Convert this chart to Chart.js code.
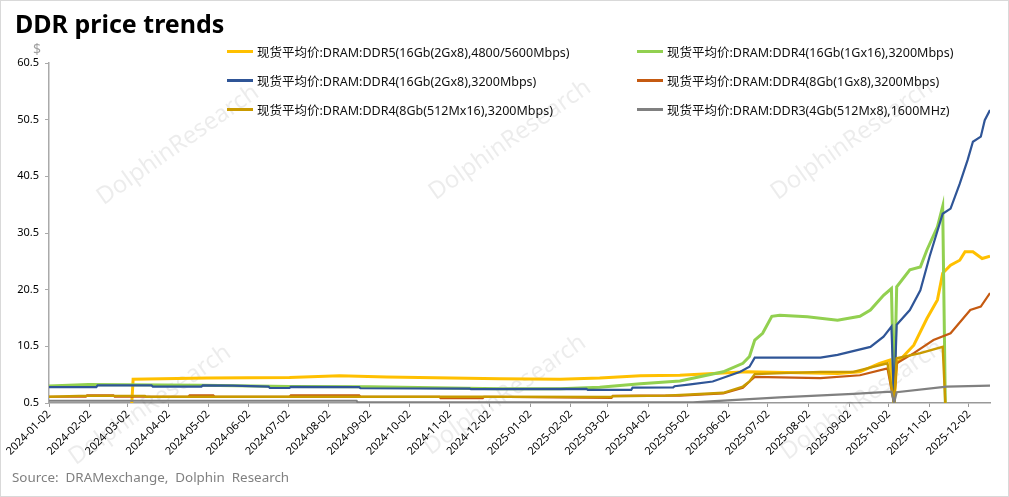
<!DOCTYPE html>
<html>
<head>
<meta charset="utf-8">
<script src="https://cdn.jsdelivr.net/npm/chart.js@4.4.1/dist/chart.umd.min.js"></script>
<style>
  body { margin: 0; background: #fff; }
  #wrap { position: relative; width: 1009px; height: 497px; overflow: hidden;
          font-family: "Noto Sans", "Noto Sans CJK SC", sans-serif; }
  #frame { position: absolute; left: 0; top: 0; right: 0; bottom: 0;
           border: 1px solid #d9d9d9; pointer-events: none; }
  canvas { position: absolute; left: 0; top: 0; }
  #title { position: absolute; left: 15px; top: 6px; font-size: 25px; font-weight: bold; color: #000; }
  #unit { position: absolute; left: 33px; top: 39px; font-size: 14px; color: #a0a0a0; }
  #source { position: absolute; left: 12px; top: 468px; font-size: 13.4px; color: #808080; white-space: pre; }
  .leg { position: absolute; display: flex; align-items: center; font-size: 12.5px; color: #111; white-space: nowrap; }
  .leg i { display: inline-block; width: 26px; height: 3px; margin-right: 4px; }
</style>
</head>
<body>
<div id="wrap">
  <canvas id="chart" width="1009" height="497"></canvas>
  <div id="title">DDR price trends</div>
  <div id="unit">$</div>
  <div id="source">Source:  DRAMexchange,  Dolphin  Research</div>
  <div id="legend"></div>
  <div id="frame"></div>
</div>
<script>
// x-axis tick labels (2nd of each month)
const monthTicks = [
  "2024-01-02", "2024-02-02", "2024-03-02", "2024-04-02", "2024-05-02", "2024-06-02",
  "2024-07-02", "2024-08-02", "2024-09-02", "2024-10-02", "2024-11-02", "2024-12-02",
  "2025-01-02", "2025-02-02", "2025-03-02", "2025-04-02", "2025-05-02", "2025-06-02",
  "2025-07-02", "2025-08-02", "2025-09-02", "2025-10-02", "2025-11-02", "2025-12-02"
];
const yTicks = [0.5, 10.5, 20.5, 30.5, 40.5, 50.5, 60.5];
const lastDate = "2025-12-18";

const seriesNames = [
  "现货平均价:DRAM:DDR5(16Gb(2Gx8),4800/5600Mbps)",
  "现货平均价:DRAM:DDR4(16Gb(1Gx16),3200Mbps)",
  "现货平均价:DRAM:DDR4(16Gb(2Gx8),3200Mbps)",
  "现货平均价:DRAM:DDR4(8Gb(1Gx8),3200Mbps)",
  "现货平均价:DRAM:DDR4(8Gb(512Mx16),3200Mbps)",
  "现货平均价:DRAM:DDR3(4Gb(512Mx8),1600MHz)"
];
const seriesColors = ["#FFC000", "#92D050", "#2F5597", "#C55A11", "#C99A00", "#808080"];
const seriesWidths = [3, 3, 2.2, 2.2, 2.4, 2.2];

// DDR5 16Gb
const ddr5Dates = ["2024-03-05", "2024-03-06", "2024-05-01", "2024-07-03", "2024-08-10", "2024-09-15",
  "2024-12-10", "2025-01-25", "2025-02-24", "2025-03-27", "2025-04-26", "2025-06-16", "2025-08-24",
  "2025-09-10", "2025-09-25", "2025-10-03", "2025-10-06", "2025-10-08", "2025-10-21", "2025-10-31",
  "2025-11-08", "2025-11-12", "2025-11-18", "2025-11-25", "2025-11-29", "2025-12-05", "2025-12-12", "2025-12-18"];
const ddr5Prices = [0.5, 4.7, 4.9, 5.0, 5.3, 5.1,
  4.8, 4.7, 4.9, 5.3, 5.4, 6.0, 5.7,
  6.0, 7.5, 8.1, 0.5, 7.5, 10.7, 15.4,
  18.7, 23.4, 24.8, 25.7, 27.2, 27.2, 26.0, 26.4];

// DDR4 16Gb 1Gx16
const ddr4x16Dates = ["2024-01-02", "2024-02-01", "2024-04-27", "2024-07-03", "2024-09-02", "2024-12-10",
  "2025-01-25", "2025-02-24", "2025-03-27", "2025-04-26", "2025-05-29", "2025-06-13", "2025-06-18",
  "2025-06-22", "2025-06-28", "2025-07-05", "2025-07-11", "2025-08-01", "2025-08-24", "2025-09-10",
  "2025-09-18", "2025-09-28", "2025-10-04", "2025-10-06", "2025-10-08", "2025-10-18", "2025-10-26",
  "2025-10-31", "2025-11-08", "2025-11-12", "2025-11-14"];
const ddr4x16Prices = [3.5, 3.75, 3.65, 3.4, 3.35, 3.0,
  3.0, 3.3, 3.9, 4.4, 6.0, 7.5, 8.7,
  11.6, 12.8, 15.8, 16.0, 15.7, 15.1, 15.8,
  16.9, 19.5, 20.7, 0.5, 21.0, 24.0, 24.5,
  27.5, 31.6, 35.2, 0.5];

// DDR4 16Gb 2Gx8
const ddr4x8Dates = ["2024-01-02", "2024-02-07", "2024-02-08", "2024-03-20", "2024-03-21", "2024-04-27",
  "2024-04-28", "2024-05-21", "2024-06-17", "2024-06-18", "2024-07-03", "2024-07-04", "2024-08-25",
  "2024-08-26", "2024-11-17", "2024-11-18", "2025-02-14", "2025-02-15", "2025-03-20", "2025-03-21",
  "2025-04-21", "2025-04-22", "2025-05-04", "2025-05-21", "2025-06-11", "2025-06-18", "2025-06-22",
  "2025-08-11", "2025-08-24", "2025-09-18", "2025-09-28", "2025-10-04", "2025-10-06", "2025-10-08",
  "2025-10-18", "2025-10-26", "2025-11-02", "2025-11-12", "2025-11-18", "2025-11-25", "2025-12-01",
  "2025-12-05", "2025-12-11", "2025-12-14", "2025-12-18"];
const ddr4x8Prices = [3.3, 3.3, 3.6, 3.6, 3.4, 3.4,
  3.6, 3.55, 3.4, 3.15, 3.15, 3.35, 3.3,
  3.1, 3.05, 2.95, 3.0, 2.8, 2.8, 3.2,
  3.25, 3.45, 3.8, 4.3, 6.0, 6.9, 8.5,
  8.5, 9.0, 10.4, 12.2, 14.0, 0.5, 14.3,
  16.9, 20.4, 26.3, 33.9, 34.8, 39.2, 43.4,
  46.6, 47.5, 50.4, 52.2];

// DDR4 8Gb 1Gx8
const ddr4g8Dates = ["2024-01-02", "2024-01-30", "2024-01-31", "2024-02-20", "2024-02-21", "2024-04-17",
  "2024-04-18", "2024-05-06", "2024-05-07", "2024-07-03", "2024-07-04", "2024-08-25", "2024-08-26",
  "2024-10-25", "2024-10-26", "2024-11-27", "2024-11-28", "2025-03-05", "2025-03-06", "2025-03-27",
  "2025-04-26", "2025-05-29", "2025-06-13", "2025-06-18", "2025-06-22", "2025-08-11", "2025-09-10",
  "2025-10-01", "2025-10-06", "2025-10-08", "2025-10-21", "2025-11-05", "2025-11-18", "2025-12-03",
  "2025-12-11", "2025-12-18"];
const ddr4g8Prices = [1.6, 1.6, 1.85, 1.85, 1.6, 1.6,
  1.85, 1.85, 1.6, 1.6, 1.85, 1.85, 1.6,
  1.6, 1.35, 1.35, 1.6, 1.4, 1.75, 1.8,
  1.8, 2.2, 3.2, 4.3, 5.1, 4.9, 5.4,
  6.6, 0.5, 7.5, 9.3, 11.6, 12.8, 16.9,
  17.5, 19.9];

// DDR4 8Gb 512Mx16
const ddr4m16Dates = ["2024-01-02", "2024-01-25", "2024-03-15", "2024-03-16", "2024-12-10", "2025-03-05",
  "2025-03-06", "2025-04-15", "2025-05-04", "2025-05-29", "2025-06-13", "2025-06-18", "2025-06-22",
  "2025-08-11", "2025-09-05", "2025-10-01", "2025-10-06", "2025-10-08", "2025-10-26", "2025-11-12",
  "2025-11-14"];
const ddr4m16Prices = [1.6, 1.75, 1.75, 1.6, 1.6, 1.55,
  1.7, 1.8, 2.0, 2.3, 3.4, 4.3, 5.6,
  6.0, 6.0, 7.5, 0.5, 8.4, 9.3, 10.4,
  0.5];

// DDR3 4Gb
const ddr3Dates = ["2024-01-02", "2024-08-23", "2024-08-24", "2025-05-06", "2025-07-11", "2025-09-05",
  "2025-10-04", "2025-10-06", "2025-10-08", "2025-11-15", "2025-12-18"];
const ddr3Prices = [0.9, 0.9, 0.6, 0.6, 1.5, 2.1,
  2.5, 0.5, 2.4, 3.4, 3.55];

const seriesDates = [ddr5Dates, ddr4x16Dates, ddr4x8Dates, ddr4g8Dates, ddr4m16Dates, ddr3Dates];
const seriesPrices = [ddr5Prices, ddr4x16Prices, ddr4x8Prices, ddr4g8Prices, ddr4m16Prices, ddr3Prices];

const day0 = Date.UTC(2024, 0, 2);
function toDay(s) {
  const p = s.split("-").map(Number);
  return (Date.UTC(p[0], p[1] - 1, p[2]) - day0) / 86400000;
}

// legend (two columns, Excel-like)
const legendPos = [[227, 51], [637, 51], [227, 80], [637, 80], [227, 109], [637, 109]];
const legendBox = document.getElementById("legend");
seriesNames.forEach((name, i) => {
  const el = document.createElement("div");
  el.className = "leg";
  el.style.left = legendPos[i][0] + "px";
  el.style.top = (legendPos[i][1] - 9) + "px";
  el.innerHTML = '<i style="background:' + seriesColors[i] + '"></i><span></span>';
  el.querySelector("span").textContent = name;
  legendBox.appendChild(el);
});

// faint watermark
const watermark = {
  id: "watermark",
  beforeDatasetsDraw(chart) {
    const ctx = chart.ctx;
    const spots = [[178, 145], [510, 140], [852, 140], [150, 405], [505, 395], [862, 400]];
    ctx.save();
    ctx.fillStyle = "rgba(0,0,0,0.075)";
    ctx.font = "24px 'Noto Sans'";
    ctx.textAlign = "center";
    ctx.textBaseline = "middle";
    spots.forEach(s => {
      ctx.save();
      ctx.translate(s[0], s[1]);
      ctx.rotate(-35 * Math.PI / 180);
      ctx.fillText("DolphinResearch", 0, 0);
      ctx.restore();
    });
    ctx.restore();
  }
};

const datasets = seriesNames.map((name, i) => ({
  label: name,
  data: seriesDates[i].map((d, k) => ({ x: toDay(d), y: seriesPrices[i][k] })),
  borderColor: seriesColors[i],
  backgroundColor: seriesColors[i],
  borderWidth: seriesWidths[i],
  pointRadius: 0,
  tension: 0,
  fill: false,
  order: seriesNames.length - i
}));

new Chart(document.getElementById("chart").getContext("2d"), {
  type: "line",
  data: { datasets: datasets },
  options: {
    responsive: false,
    animation: false,
    events: [],
    layout: { padding: { left: 0, right: 19, top: 63, bottom: 0 } },
    plugins: { legend: { display: false }, tooltip: { enabled: false } },
    scales: {
      x: {
        type: "linear",
        min: 0,
        max: toDay(lastDate),
        afterBuildTicks: axis => { axis.ticks = monthTicks.map(t => ({ value: toDay(t) })); },
        afterFit: axis => { axis.height = 94; },
        ticks: {
          autoSkip: false,
          minRotation: 45,
          maxRotation: 45,
          padding: 1,
          color: "#000",
          font: { family: "'Noto Sans'", size: 11 },
          callback: v => monthTicks.find(t => toDay(t) === v) || ""
        },
        grid: { display: true, drawOnChartArea: false, drawTicks: true, tickLength: 4, color: "#999" },
        border: { color: "#999", width: 1.5 }
      },
      y: {
        type: "linear",
        min: 0.5,
        max: 60.5,
        afterBuildTicks: axis => { axis.ticks = yTicks.map(v => ({ value: v })); },
        afterFit: axis => { axis.width = 49; },
        ticks: {
          padding: 6,
          color: "#000",
          font: { family: "'Noto Sans'", size: 11 },
          callback: v => v.toFixed(1)
        },
        grid: { display: true, drawOnChartArea: false, drawTicks: true, tickLength: 4, color: "#aaa" },
        border: { color: "#aaa", width: 1.5 }
      }
    }
  },
  plugins: [watermark]
});
</script>
</body>
</html>
